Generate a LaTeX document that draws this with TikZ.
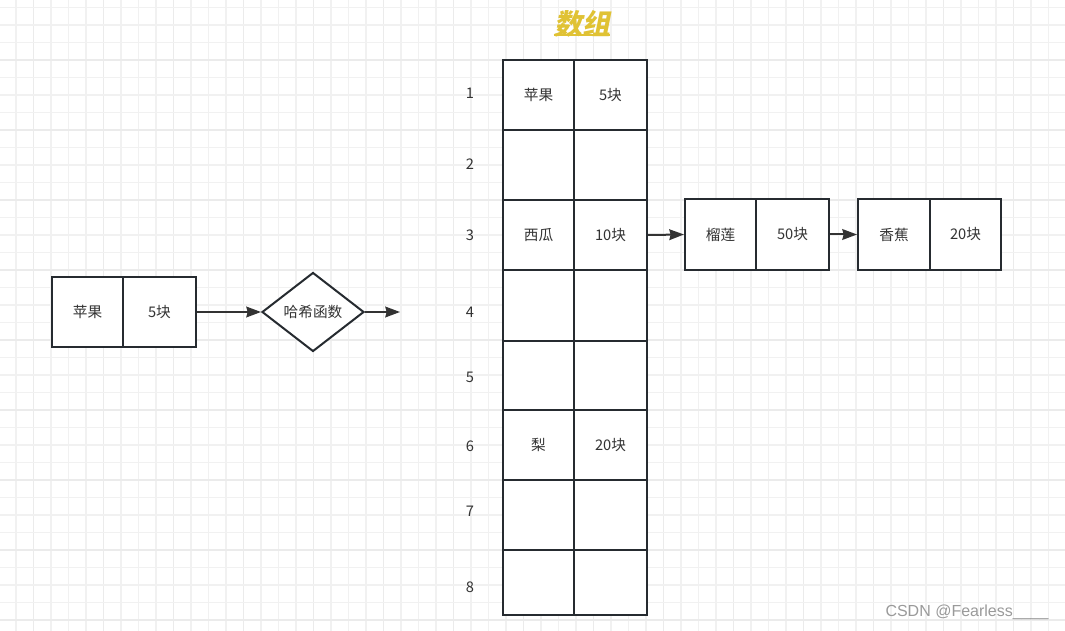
\documentclass[tikz,border=0pt]{standalone}
\usepackage{fontspec}
\setmainfont{Noto Sans CJK SC}
\newfontfamily\titlefont[FakeSlant=0.2]{Noto Sans CJK SC}
\newfontfamily\wmfont{Liberation Sans}
\usetikzlibrary{shapes.geometric,arrows.meta}
\definecolor{gridminor}{HTML}{F1F1F1}
\definecolor{gridmajor}{HTML}{EBEBEB}
\definecolor{linec}{HTML}{262B30}
\definecolor{textc}{HTML}{333333}
\definecolor{titlec}{HTML}{E0C234}
\definecolor{wmc}{HTML}{9A9A9A}
\newcommand\mkcell[6]{\node[cell, minimum width={(#4-#2)*0.75pt}, minimum height={(#5-#3)*0.75pt}] (#1) at ({(#2+#4)/2},{(#3+#5)/2}) {#6};}
\begin{document}
\begin{tikzpicture}[x=0.75pt,y=-0.75pt,
  cell/.style={draw=linec, line width=1.5pt, fill=white, inner sep=0pt, text=textc, font=\fontsize{11}{13}\selectfont},
  idx/.style={text=textc, inner sep=0pt, font=\fontsize{11}{13}\selectfont},
  arr/.style={draw=textc, line width=1.5pt, -{Stealth[length=11pt,width=8pt,inset=1pt]}},
  hashbox/.style={diamond, draw=linec, line width=1.5pt, fill=white, inner sep=0pt, aspect=1.29, minimum width=76.5pt, minimum height=59.25pt, text=textc, font=\fontsize{11}{13}\selectfont}]
\fill[white] (0,0) rectangle (1065,631);
\useasboundingbox (0,0) rectangle (1065,631);
% grid
\foreach \k in {0,...,61}{
  \pgfmathsetmacro\xx{-1.5+17.5*\k}
  \pgfmathtruncatemacro\m{mod(\k,4)}
  \ifnum\m=2
    \draw[gridmajor, line width=1.1pt] (\xx,0) -- (\xx,631);
  \else
    \draw[gridminor, line width=1pt] (\xx,0) -- (\xx,631);
  \fi
}
\foreach \k in {0,...,37}{
  \pgfmathsetmacro\yy{-10+17.5*\k}
  \pgfmathtruncatemacro\m{mod(\k,4)}
  \ifnum\m=0
    \draw[gridmajor, line width=1.1pt] (0,\yy) -- (1065,\yy);
  \else
    \draw[gridminor, line width=1pt] (0,\yy) -- (1065,\yy);
  \fi
}
% title
\node[inner sep=0pt, text=titlec, font=\titlefont\bfseries\fontsize{21}{24}\selectfont] (title) at (582,24) {数组};
\draw[titlec, line width=1.6pt] ([yshift=2pt]title.south west) -- ([yshift=2pt]title.south east);
% left box
\mkcell{lb1}{52}{277}{123}{347}{苹果}
\mkcell{lb2}{123}{277}{196}{347}{5块}
\node[hashbox] (hash) at (313,312) {哈希函数};
\coordinate (out) at (400,312);
\draw[arr] (lb2.east) -- (hash.west);
\draw[arr] (hash.east) -- (out);
% array
\mkcell{a1l}{503}{60}{574}{130}{苹果}
\mkcell{a1r}{574}{60}{647}{130}{5块}
\mkcell{a2l}{503}{130}{574}{200}{}
\mkcell{a2r}{574}{130}{647}{200}{}
\mkcell{a3l}{503}{200}{574}{270}{西瓜}
\mkcell{a3r}{574}{200}{647}{270}{10块}
\mkcell{a4l}{503}{270}{574}{341}{}
\mkcell{a4r}{574}{270}{647}{341}{}
\mkcell{a5l}{503}{341}{574}{410}{}
\mkcell{a5r}{574}{341}{647}{410}{}
\mkcell{a6l}{503}{410}{574}{480}{梨}
\mkcell{a6r}{574}{410}{647}{480}{20块}
\mkcell{a7l}{503}{480}{574}{550}{}
\mkcell{a7r}{574}{480}{647}{550}{}
\mkcell{a8l}{503}{550}{574}{615}{}
\mkcell{a8r}{574}{550}{647}{615}{}
% indices
\node[idx] (i1) at (470,93) {1};
\node[idx] (i2) at (470,164) {2};
\node[idx] (i3) at (470,235) {3};
\node[idx] (i4) at (470,312) {4};
\node[idx] (i5) at (470,377) {5};
\node[idx] (i6) at (470,446) {6};
\node[idx] (i7) at (470,511) {7};
\node[idx] (i8) at (470,587) {8};
% chain
\mkcell{c1l}{685}{199}{756}{270}{榴莲}
\mkcell{c1r}{756}{199}{829}{270}{50块}
\mkcell{c2l}{858}{199}{930}{270}{香蕉}
\mkcell{c2r}{930}{199}{1001}{270}{20块}
\draw[arr] (a3r.east) -- (c1l.west);
\draw[arr] (c1r.east) -- (c2l.west);
% watermark
\node[inner sep=0pt, text=wmc, font=\wmfont\fontsize{12}{14}\selectfont] (wm) at (967,612) {CSDN @Fearless\_\_\_\_};
\end{tikzpicture}
\end{document}
